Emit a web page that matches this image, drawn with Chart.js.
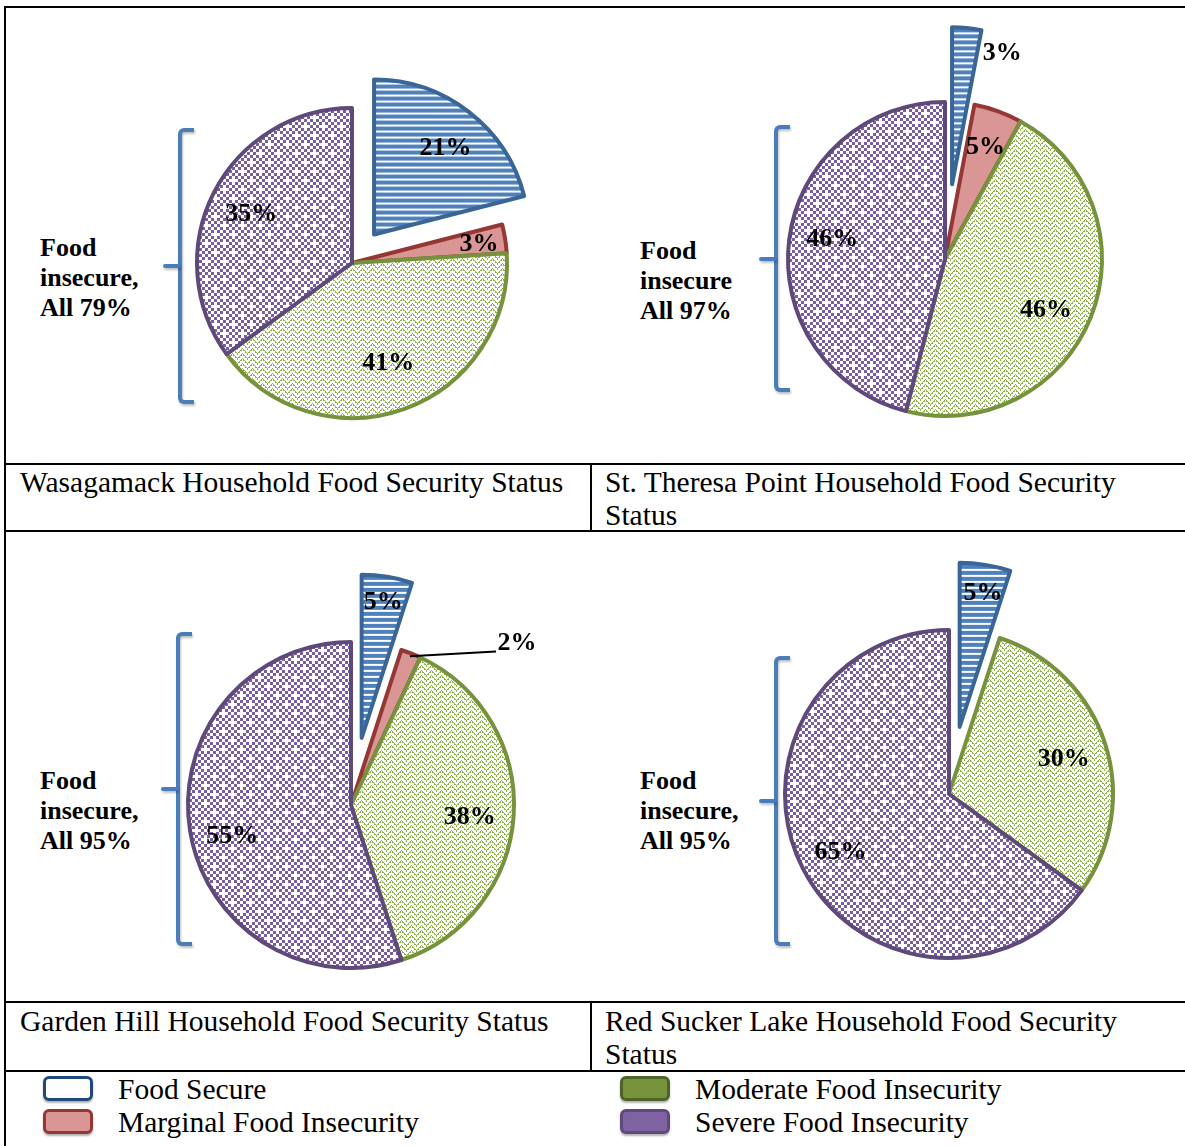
<!DOCTYPE html>
<html>
<head>
<meta charset="utf-8">
<title>Household Food Security Status</title>
<script src="https://cdn.jsdelivr.net/npm/chart.js@4.4.1/dist/chart.umd.min.js"></script>
<style>
  html, body { margin: 0; padding: 0; background: #fff; overflow: hidden; }
  #page {
    position: relative; width: 1185px; height: 1146px; overflow: hidden;
    font-family: "Liberation Serif", "Times New Roman", serif; color: #000;
  }
  .rule { position: absolute; background: #000; }
  .caption { position: absolute; font-size: 29.5px; line-height: 33px; white-space: nowrap; }
  .note { position: absolute; font-size: 26px; font-weight: bold; line-height: 30px; white-space: pre; }
  .pie { position: absolute; }
  .brace {
    position: absolute; width: 12px; border: 4px solid #4A7EBB; border-right: none;
    border-radius: 6px 0 0 6px; filter: drop-shadow(1px 2px 1px rgba(0,0,0,0.25));
  }
  .brace-tick {
    position: absolute; width: 17px; height: 4px; border-radius: 2px; background: #4A7EBB;
    filter: drop-shadow(1px 2px 1px rgba(0,0,0,0.25));
  }
  .swatch {
    position: absolute; width: 44px; height: 19px; border: 3px solid; border-radius: 6px;
    box-shadow: 0 2px 2px rgba(0,0,0,0.3);
  }
  .key { position: absolute; font-size: 29.5px; line-height: 33px; white-space: nowrap; }
</style>
</head>
<body>
<div id="page"></div>
<script>
// categories shared by every pie
const categories = ['Food Secure', 'Marginal Food Insecurity', 'Moderate Food Insecurity', 'Severe Food Insecurity'];

// percent of households in each category, per community
const wasagamack = [21, 3, 41, 35];
const stTheresaPoint = [3, 5, 46, 46];
const gardenHill = [5, 2, 38, 55];
const redSuckerLake = [5, 0, 30, 65];

const captions = [
  'Wasagamack Household Food Security Status',
  'St. Theresa Point Household Food Security\nStatus',
  'Garden Hill Household Food Security Status',
  'Red Sucker Lake Household Food Security\nStatus'
];
const noteHeads = ['Food\ninsecure,', 'Food\ninsecure', 'Food\ninsecure,', 'Food\ninsecure,'];

const page = document.getElementById('page');

// fill patterns for the slices
function makeTile(w, h, paint) {
  const c = document.createElement('canvas');
  c.width = w; c.height = h;
  const g = c.getContext('2d');
  paint(g);
  return g.createPattern(c, 'repeat');
}

const stripes = makeTile(6, 6, g => {
  g.fillStyle = '#4F81BD'; g.fillRect(0, 0, 6, 6);
  g.fillStyle = '#fff'; g.fillRect(0, 4, 6, 2);
});

// dotted zigzag, two rows per tile
const zigzag = makeTile(10, 10, g => {
  g.fillStyle = '#fff'; g.fillRect(0, 0, 10, 10);
  g.fillStyle = '#8DB24A';
  for (let x = 0; x < 10; x++) {
    const y = x < 5 ? x : 10 - x;
    for (const row of [0, 5]) {
      g.fillRect(x, (y + row) % 10, 1, 1);
      if (x % 2 === 1) g.fillRect(x, (y + row + 1) % 10, 1, 1);
    }
  }
});

const checks = makeTile(18, 18, g => {
  g.fillStyle = '#fff'; g.fillRect(0, 0, 18, 18);
  g.fillStyle = '#7A5D9E';
  for (let i = 0; i < 6; i++) {
    for (let j = 0; j < 6; j++) {
      const cross = (i === 1 && j === 1) || (i === 4 && j === 4);
      if ((i + j) % 2 === 0 && !cross) g.fillRect(i * 3, j * 3, 3, 3);
    }
  }
});

const sliceFills = [stripes, '#D99694', zigzag, checks];
const sliceBorders = ['#3A6597', '#953735', '#76923C', '#5F497A'];

// pulls slices away from the centre, then lets the arc elements draw themselves
const explode = {
  id: 'explode',
  beforeDatasetDraw(chart, args, opts) {
    const ctx = chart.ctx;
    args.meta.data.forEach((arc, i) => {
      const d = opts.pull[i] || 0;
      const mid = (arc.startAngle + arc.endAngle) / 2;
      ctx.save();
      ctx.translate(Math.cos(mid) * d, Math.sin(mid) * d);
      arc.draw(ctx);
      ctx.restore();
    });
    return false;
  }
};

// percent labels, placed along each slice's middle angle
const sliceLabels = {
  id: 'sliceLabels',
  afterDatasetsDraw(chart, args, opts) {
    const ctx = chart.ctx;
    const values = chart.data.datasets[0].data;
    const pull = chart.options.plugins.explode.pull;
    ctx.save();
    ctx.font = 'bold 26px "Liberation Serif", "Times New Roman", serif';
    ctx.fillStyle = '#000';
    ctx.textAlign = 'center';
    ctx.textBaseline = 'middle';
    chart.getDatasetMeta(0).data.forEach((arc, i) => {
      if (!values[i]) return;
      const [frac, dx, dy, leader] = opts.place[i];
      const mid = (arc.startAngle + arc.endAngle) / 2;
      const r = (pull[i] || 0) + frac * arc.outerRadius;
      const x = arc.x + Math.cos(mid) * r + dx;
      const y = arc.y + Math.sin(mid) * r + dy;
      if (leader) {
        const ex = arc.x + Math.cos(mid) * (arc.outerRadius - 3);
        const ey = arc.y + Math.sin(mid) * (arc.outerRadius - 3);
        ctx.beginPath();
        ctx.moveTo(ex, ey);
        ctx.lineTo(x - 21, y + 8);
        ctx.lineWidth = 2;
        ctx.strokeStyle = '#000';
        ctx.stroke();
      }
      ctx.fillText(values[i] + '%', x, y);
    });
    ctx.restore();
  }
};

const panels = [
  { values: wasagamack, cx: 352, cy: 263, r: 155, pull: [36, 0, 0, 0],
    place: [[0.72, 3, 2], [0.83, 0, 1], [0.69, 0, 0], [0.73, 0, 3]],
    note: { x: 40, y: 233 }, brace: { x: 180, top: 130, mid: 266, bottom: 402 } },
  { values: stTheresaPoint, cx: 945, cy: 259, r: 157, pull: [75, 0, 0, 0],
    place: [[0.9, 37, 10], [0.76, 0, 1], [0.72, -4, 10], [0.73, 1, -5]],
    note: { x: 640, y: 236 }, brace: { x: 776, top: 127, mid: 259, bottom: 390 } },
  { values: gardenHill, cx: 351, cy: 805, r: 163, pull: [68, 0, 0, 0],
    place: [[0.85, 0, 1], [1.0, 106, -10, true], [0.73, 0, 5], [0.75, 2, 12]],
    note: { x: 40, y: 766 }, brace: { x: 178, top: 634, mid: 789, bottom: 944 } },
  { values: redSuckerLake, cx: 949, cy: 794, r: 164, pull: [68, 0, 0, 0],
    place: [[0.83, 2, 1], [0.8, 0, 0], [0.73, 1, 2], [0.75, 1, 2]],
    note: { x: 640, y: 766 }, brace: { x: 776, top: 658, mid: 801, bottom: 944 } }
];

// table rules
function rule(left, top, width, height) {
  const el = document.createElement('div');
  el.className = 'rule';
  Object.assign(el.style, { left: left + 'px', top: top + 'px', width: width + 'px', height: height + 'px' });
  page.appendChild(el);
}
rule(4, 6, 1181, 2);
rule(4, 6, 2, 1140);
[463, 530, 1001, 1070].forEach(y => rule(4, y, 1181, 2));
rule(590, 463, 2, 69);
rule(590, 1001, 2, 71);

function addText(cls, text, left, top) {
  const el = document.createElement('div');
  el.className = cls;
  el.textContent = text;
  el.style.left = left + 'px';
  el.style.top = top + 'px';
  page.appendChild(el);
  return el;
}

// cell captions
const captionSpots = [[20, 466], [605, 466], [20, 1005], [605, 1005]];
captions.forEach((c, i) => {
  addText('caption', '', captionSpots[i][0], captionSpots[i][1]).innerText = c;
});

const S = 480;
panels.forEach((p, i) => {
  // bracket over the three insecure groups
  const b = p.brace;
  const brace = document.createElement('div');
  brace.className = 'brace';
  Object.assign(brace.style, { left: (b.x - 2) + 'px', top: (b.top - 2) + 'px', height: (b.bottom - b.top - 4) + 'px' });
  page.appendChild(brace);
  const tick = document.createElement('div');
  tick.className = 'brace-tick';
  Object.assign(tick.style, { left: (b.x - 17) + 'px', top: (b.mid - 2) + 'px' });
  page.appendChild(tick);

  const insecure = p.values[1] + p.values[2] + p.values[3];
  addText('note', noteHeads[i] + '\nAll ' + insecure + '%', p.note.x, p.note.y);

  const canvas = document.createElement('canvas');
  canvas.className = 'pie';
  canvas.width = S; canvas.height = S;
  canvas.style.left = (p.cx - S / 2) + 'px';
  canvas.style.top = (p.cy - S / 2) + 'px';
  page.appendChild(canvas);

  new Chart(canvas.getContext('2d'), {
    type: 'pie',
    data: {
      labels: categories,
      datasets: [{
        data: p.values,
        backgroundColor: sliceFills,
        borderColor: sliceBorders,
        borderWidth: 4,
        borderJoinStyle: 'round'
      }]
    },
    options: {
      responsive: false,
      animation: false,
      events: [],
      radius: p.r,
      layout: { padding: 0 },
      plugins: {
        legend: { display: false },
        tooltip: { enabled: false },
        explode: { pull: p.pull },
        sliceLabels: { place: p.place }
      }
    },
    plugins: [explode, sliceLabels]
  });
});

// legend
const keyFills = ['#FFFFFF', '#D99694', '#77933C', '#7F62A1'];
const keyBorders = ['#1F497D', '#953735', '#4F6228', '#5F497A'];
const keySpots = [[43, 1076, 118], [43, 1109, 118], [620, 1076, 695], [620, 1109, 695]];
categories.forEach((name, i) => {
  const [sx, sy, tx] = keySpots[i];
  const sw = document.createElement('div');
  sw.className = 'swatch';
  Object.assign(sw.style, { left: sx + 'px', top: sy + 'px', background: keyFills[i], borderColor: keyBorders[i] });
  page.appendChild(sw);
  addText('key', name, tx, sy - 3);
});
</script>
</body>
</html>
